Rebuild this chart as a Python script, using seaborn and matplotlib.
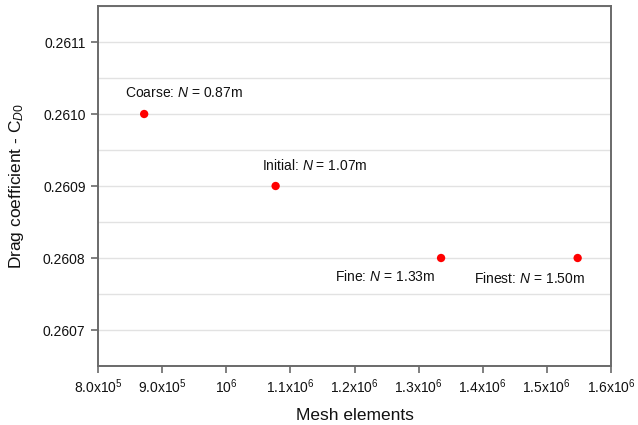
import matplotlib
matplotlib.use("Agg")
import matplotlib.pyplot as plt
import matplotlib.ticker as mticker
import seaborn as sns
import pandas as pd

# Mesh study results
mesh_names = ["Coarse", "Initial", "Fine", "Finest"]
mesh_elements = [872000, 1077000, 1335000, 1548000]
drag_coeff = [0.2610, 0.2609, 0.2608, 0.2608]
mesh_labels = ["0.87m", "1.07m", "1.33m", "1.50m"]

x_ticks = [8.0e5, 9.0e5, 1.0e6, 1.1e6, 1.2e6, 1.3e6, 1.4e6, 1.5e6, 1.6e6]
x_tick_labels = [r"8.0x10$^{5}$", r"9.0x10$^{5}$", r"10$^{6}$", r"1.1x10$^{6}$",
                 r"1.2x10$^{6}$", r"1.3x10$^{6}$", r"1.4x10$^{6}$", r"1.5x10$^{6}$",
                 r"1.6x10$^{6}$"]
y_ticks = [0.2607, 0.2608, 0.2609, 0.2610, 0.2611]

df = pd.DataFrame({"mesh": mesh_names, "elements": mesh_elements, "cd": drag_coeff})

sns.set_theme(style="white")
plt.rcParams["font.family"] = ["Liberation Sans", "DejaVu Sans"]
plt.rcParams["mathtext.fontset"] = "custom"
plt.rcParams["mathtext.rm"] = "Liberation Sans"
plt.rcParams["mathtext.it"] = "Liberation Sans:italic"

fig = plt.figure(figsize=(6.38, 4.25), dpi=100)
ax = fig.add_axes([98 / 638, 1 - 366 / 425, (611 - 98) / 638, (366 - 6) / 425])

sns.scatterplot(data=df, x="elements", y="cd", ax=ax, color="#ff0000",
                s=36, edgecolor="none", zorder=3, legend=False)

# label offsets in points (dx, dy) relative to each point
offsets = [(29, 15), (28, 15), (-40, -13), (-35, -15)]
for name, xv, yv, lab, off in zip(mesh_names, mesh_elements, drag_coeff, mesh_labels, offsets):
    ax.annotate(f"{name}: $N$ = {lab}", (xv, yv), xytext=off, textcoords="offset points",
                ha="center", va="center", fontsize=10, color="#111111")

ax.set_xlim(8.0e5, 1.6e6)
ax.set_ylim(0.26065, 0.26115)
ax.set_xticks(x_ticks)
ax.set_xticklabels(x_tick_labels)
ax.set_yticks(y_ticks)
ax.set_yticklabels([f"{v:.4f}" for v in y_ticks])
ax.yaxis.set_minor_locator(mticker.MultipleLocator(0.00005))

ax.grid(False)
ax.grid(True, which="both", axis="y", color="#e2e2e2", linewidth=1.0, zorder=0)
ax.set_axisbelow(True)

for side in ["left", "bottom", "right", "top"]:
    ax.spines[side].set_visible(True)
    ax.spines[side].set_color("#6a6a6a")
    ax.spines[side].set_linewidth(1.4)

ax.tick_params(axis="both", which="major", direction="out", length=5, width=1.2,
               color="#6a6a6a", labelsize=10, labelcolor="#111111", bottom=True, left=True)
ax.tick_params(axis="y", which="minor", left=False)
ax.tick_params(axis="x", pad=3)
ax.tick_params(axis="y", pad=4)

ax.set_xlabel("Mesh elements", fontsize=12.5, color="#111111", labelpad=9)
ax.set_ylabel(r"Drag coefficient - C$_{\mathit{D0}}$", fontsize=12.5, color="#111111", labelpad=12)

fig.savefig("out.png", dpi=100)
